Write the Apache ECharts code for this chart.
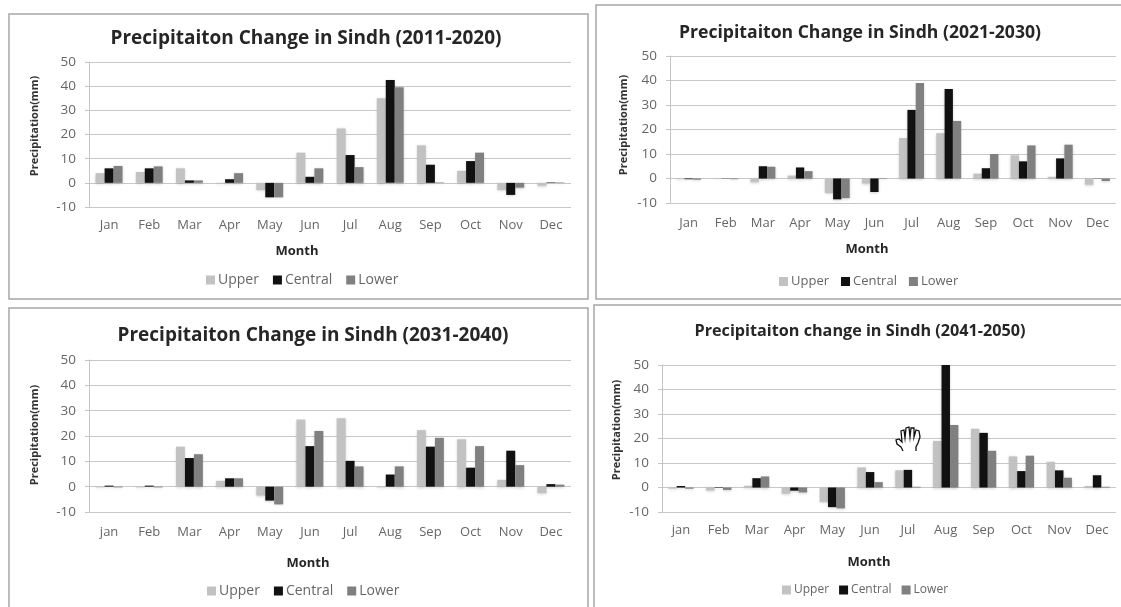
<!DOCTYPE html>
<html lang="en" style="height: 100%; width: 100%; overflow: hidden">
<head>
    <meta charset="UTF-8">
    <title>Precipitation Change in Sindh</title>
    <script type="text/javascript" src="https://cdn.jsdelivr.net/npm/echarts@6/dist/echarts.min.js"></script>
</head>
<body style="height: 100%; width: 100%; margin: 0; background: #fff">
<div id="container" style="height: 607px; width: 1121px; filter: blur(0.6px)"></div>

<script type="text/javascript">

    var months = ['Jan', 'Feb', 'Mar', 'Apr', 'May', 'Jun', 'Jul', 'Aug', 'Sep', 'Oct', 'Nov', 'Dec'];
    var monthsLower = ['jan', 'Feb', 'Mar', 'Apr', 'May', 'Jun', 'Jul', 'Aug', 'Sep', 'Oct', 'Nov', 'Dec'];
    var seriesNames = ['Upper', 'Central', 'Lower'];
    var seriesColors = ['#c2c2c2', '#111111', '#808080'];

    var upper2011 = [4, 4.5, 6, -0.3, -3, 12.5, 22.5, 35, 15.5, 5, -3, -1.2];
    var central2011 = [6, 6, 1, 1.5, -6, 2.5, 11.5, 42.5, 7.5, 9, -5, 0.2];
    var lower2011 = [7, 6.8, 1, 4, -6, 6, 6.5, 39.5, 0.2, 12.5, -2, 0.2];

    var upper2021 = [-0.3, -0.2, -1.5, 1.2, -6, -2, 16.5, 18.5, 2, 9.5, 0.7, -2.5];
    var central2021 = [-0.3, -0.1, 5, 4.5, -8.5, -5.5, 28, 36.5, 4.2, 7, 8.2, -0.1];
    var lower2021 = [-0.5, -0.3, 4.8, 3, -8, 0.2, 39, 23.5, 10, 13.5, 13.8, -1];

    var upper2031 = [-0.3, -0.3, 15.8, 2.3, -3.5, 26.5, 27, -0.3, 22.3, 18.7, 2.7, -2.5];
    var central2031 = [0.4, 0.4, 11.3, 3.3, -5.5, 16, 10.2, 4.8, 15.8, 7.5, 14.2, 1];
    var lower2031 = [-0.3, -0.3, 12.8, 3.3, -7, 22, 8, 8, 19.3, 16, 8.5, 0.8];

    var upper2041 = [-0.5, -1.2, 0.7, -2.5, -6, 8.2, 7, 19, 24, 12.7, 10.5, 0.6];
    var central2041 = [0.6, -0.2, 3.8, -1.3, -8, 6.3, 7.2, 50, 22.3, 6.7, 7, 5];
    var lower2041 = [-0.5, -1, 4.5, -2, -8.5, 2.2, 0.3, 25.5, 15, 13, 4, 0.3];

    // box = frame of the panel, plot = x0,x1,y0,y1 of the grid
    var panels = [
        {title: 'Precipitaiton Change in Sindh (2011-2020)', titleSize: 19, titleX: 306, titleY: 39,
            cats: months, values: [upper2011, central2011, lower2011],
            box: [9, 14, 579, 285], plot: [89, 571, 62, 207], labelGap: 12,
            monthX: 297, monthY: 251, nameX: 35, nameY: 126,
            legendX: 206, legendY: 273, legendSize: 14, legendGap: 14},
        {title: 'Precipitaiton Change in Sindh (2021-2030)', titleSize: 17.6, titleX: 860, titleY: 33,
            cats: months, values: [upper2021, central2021, lower2021],
            box: [596, 5, 540, 294], plot: [670, 1116, 56, 203], labelGap: 14,
            monthX: 867, monthY: 249, nameX: 624, nameY: 125,
            legendX: 779, legendY: 275, legendSize: 13, legendGap: 12},
        {title: 'Precipitaiton Change in Sindh (2031-2040)', titleSize: 19, titleX: 313, titleY: 336,
            cats: monthsLower, values: [upper2031, central2031, lower2031],
            box: [9, 308, 579, 320], plot: [89, 571, 360, 512], labelGap: 14,
            monthX: 308, monthY: 563, nameX: 35, nameY: 435,
            legendX: 207, legendY: 584, legendSize: 14, legendGap: 14},
        {title: 'Precipitaiton change in Sindh (2041-2050)', titleSize: 16.2, titleX: 860, titleY: 331,
            cats: monthsLower, values: [upper2041, central2041, lower2041],
            box: [594, 305, 540, 320], plot: [662, 1116, 365, 512], labelGap: 12,
            monthX: 869, monthY: 562, nameX: 617, nameY: 430,
            legendX: 782, legendY: 584, legendSize: 12, legendGap: 10}
    ];

    var fontName = 'Open Sans';
    var myChart = echarts.init(document.getElementById('container'));

    var titles = [], grids = [], xAxes = [], yAxes = [], legends = [], series = [], graphics = [];

    panels.forEach(function (p, i) {
        graphics.push({
            type: 'rect', z: -1,
            shape: {x: p.box[0], y: p.box[1], width: p.box[2], height: p.box[3]},
            style: {fill: '#fff', stroke: '#a6a6a6', lineWidth: 1.5}
        });
        titles.push({
            text: p.title, left: p.titleX, top: p.titleY, padding: 0, textAlign: 'center', textVerticalAlign: 'middle',
            textStyle: {fontFamily: fontName, fontSize: p.titleSize, fontWeight: 'bold', color: '#262626'}
        });
        grids.push({left: p.plot[0], width: p.plot[1] - p.plot[0], top: p.plot[2], height: p.plot[3] - p.plot[2]});
        xAxes.push({
            type: 'category', gridIndex: i, data: p.cats,
            axisLine: {show: false, onZero: false}, axisTick: {show: false},
            axisLabel: {fontFamily: fontName, fontSize: 13, color: '#666', margin: p.labelGap, interval: 0}
        });
        yAxes.push({
            type: 'value', gridIndex: i, min: -10, max: 50, interval: 10,
            axisLine: {show: true, lineStyle: {color: '#c4c4c4'}},
            axisTick: {show: true, length: 4, lineStyle: {color: '#c4c4c4'}},
            axisLabel: {fontFamily: fontName, fontSize: 13.5, color: '#666', margin: 13},
            splitLine: {lineStyle: {color: '#c8c8c8'}}
        });
        legends.push({
            data: seriesNames, left: p.legendX, top: p.legendY, padding: 0, icon: 'rect',
            itemWidth: 9, itemHeight: 9, itemGap: p.legendGap,
            textStyle: {fontFamily: fontName, fontSize: p.legendSize, color: '#666', padding: [0, 0, 0, -2]}
        });
        graphics.push({
            type: 'text', x: p.monthX, y: p.monthY,
            style: {text: 'Month', fontFamily: fontName, fontSize: 13, fontWeight: 'bold', fill: '#262626', align: 'center', verticalAlign: 'middle'}
        });
        graphics.push({
            type: 'text', x: p.nameX, y: p.nameY, rotation: Math.PI / 2,
            style: {text: 'Precipitation(mm)', fontFamily: fontName, fontSize: 11, fontWeight: 'bold', fill: '#333', align: 'center', verticalAlign: 'middle'}
        });
        seriesNames.forEach(function (name, j) {
            series.push({
                name: name, type: 'bar', xAxisIndex: i, yAxisIndex: i,
                data: p.values[j], barGap: 0, barCategoryGap: '33%',
                itemStyle: {color: seriesColors[j], shadowBlur: 3, shadowOffsetY: 1, shadowColor: 'rgba(0, 0, 0, 0.2)'},
                animation: false
            });
        });
    });

    // the hand cursor caught in the screenshot
    graphics.push({
        type: 'polyline', z: 10,
        shape: {points: [[903, 451], [901, 447], [897, 444], [896, 440], [899, 439], [902, 442], [901, 431], [904, 430], [905, 438], [906, 428], [909, 427], [910, 437], [911, 428], [914, 428], [914, 437], [916, 430], [919, 431], [920, 437], [918, 443], [916, 447], [916, 451]]},
        style: {fill: 'none', stroke: '#111', lineWidth: 1.3}
    });

    option = {
        backgroundColor: '#fff',
        animation: false,
        color: seriesColors,
        title: titles,
        grid: grids,
        xAxis: xAxes,
        yAxis: yAxes,
        legend: legends,
        series: series,
        graphic: graphics
    };

    myChart.setOption(option);

</script>
</body>
</html>
